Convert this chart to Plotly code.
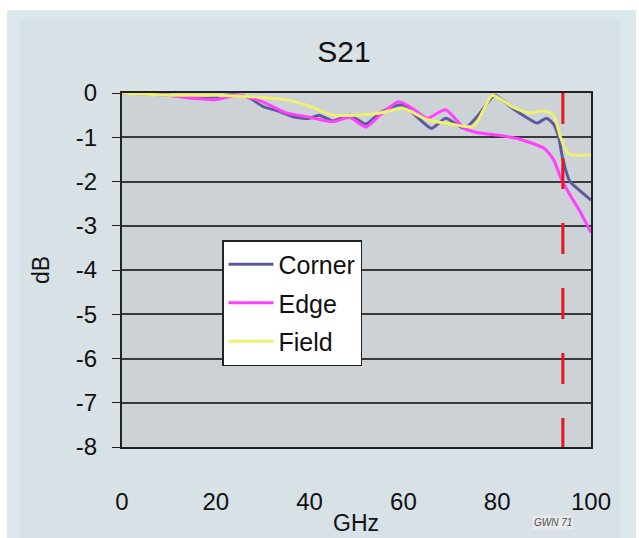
import plotly.graph_objects as go

# ---- data ----
corner_x = [0, 5, 10, 15, 18, 22, 25, 27, 30, 33, 37, 40, 42, 45, 48.5, 52, 55, 58, 60, 63, 66, 69, 73, 76,
            79.5, 83, 86.5, 88.5, 90.5, 92, 93, 94, 95.5, 97, 100]
corner_y = [0, -0.02, -0.05, -0.1, -0.12, -0.05, -0.05, -0.1, -0.3, -0.4, -0.55, -0.57, -0.5, -0.63, -0.5,
            -0.7, -0.45, -0.3, -0.27, -0.55, -0.8, -0.57, -0.8, -0.5,
            -0.05, -0.33, -0.57, -0.68, -0.57, -0.7, -0.95, -1.5, -2.0, -2.15, -2.42]

edge_x = [0, 10, 15, 20, 25, 30, 35, 40, 45, 48.5, 52, 55, 59, 62, 65, 69, 73, 76, 80, 85, 90, 92, 93.5,
          95.5, 97.5, 100]
edge_y = [0, -0.05, -0.12, -0.15, -0.05, -0.2, -0.45, -0.55, -0.65, -0.55, -0.77, -0.5, -0.2, -0.35, -0.57,
          -0.38, -0.8, -0.9, -0.95, -1.05, -1.25, -1.5, -1.9, -2.3, -2.65, -3.15]

field_x = [0, 10, 20, 30, 35, 40, 45, 50, 55, 60, 65, 70, 75, 79, 83, 87, 90, 92, 93.5, 95, 96, 100]
field_y = [0, -0.05, -0.05, -0.1, -0.15, -0.3, -0.5, -0.5, -0.45, -0.35, -0.6, -0.7, -0.75, -0.05, -0.3,
           -0.45, -0.4, -0.5, -1.0, -1.35, -1.4, -1.4]

series_names = ["Corner", "Edge", "Field"]
x_ticks = [0, 20, 40, 60, 80, 100]
y_ticks = [0, -1, -2, -3, -4, -5, -6, -7, -8]
cutoff_ghz = 94

# ---- figure ----
W, H = 639, 538
L, R, T, B = 122, 48, 93, 91
pw, ph = W - L - R, H - T - B


def px_x(px):
    return (px - L) / pw


def px_y(py):
    return (H - B - py) / ph


FONT = "Liberation Sans, Arial, sans-serif"

fig = go.Figure()
colors = ["#5b5b9e", "#ff40ff", "#f0f070"]
for name, xs, ys, c in zip(series_names, [corner_x, edge_x, field_x], [corner_y, edge_y, field_y], colors):
    fig.add_trace(go.Scatter(x=xs, y=ys, mode="lines", name=name, legendgroup=name,
                             line=dict(color=c, width=3, shape="spline", smoothing=0.6)))

shapes = [
    # panel background & white borders
    dict(type="rect", xref="paper", yref="paper", x0=px_x(0), x1=px_x(W), y0=px_y(0), y1=px_y(10),
         fillcolor="white", line=dict(width=0), layer="below"),
    dict(type="rect", xref="paper", yref="paper", x0=px_x(0), x1=px_x(7), y0=px_y(0), y1=px_y(H),
         fillcolor="white", line=dict(width=0), layer="below"),
    dict(type="rect", xref="paper", yref="paper", x0=px_x(636), x1=px_x(W), y0=px_y(0), y1=px_y(H),
         fillcolor="white", line=dict(width=0), layer="below"),
    dict(type="rect", xref="paper", yref="paper", x0=px_x(20), x1=px_x(620), y0=px_y(20), y1=px_y(H),
         fillcolor="#d3dee2", line=dict(width=0), layer="below", opacity=0.6),
    # cutoff marker
    dict(type="line", xref="x", yref="y", x0=cutoff_ghz, x1=cutoff_ghz, y0=0, y1=-8,
         line=dict(color="#e8141e", width=3, dash="31px,34px")),
]

annotations = [
    dict(text="dB", xref="paper", yref="paper", x=px_x(41), y=px_y(270), showarrow=False,
         xanchor="center", yanchor="middle",
         textangle=-90, font=dict(family=FONT, size=23, color="#111")),
    dict(text="GHz", xref="paper", yref="paper", x=px_x(356), y=px_y(523), showarrow=False,
         xanchor="center", yanchor="middle",
         font=dict(family=FONT, size=23, color="#111")),
    dict(text="<i>GWN 71</i>", xref="paper", yref="paper", x=px_x(553), y=px_y(522), showarrow=False,
         xanchor="center", yanchor="middle",
         font=dict(family=FONT, size=10, color="#555"), bgcolor="#e6e8ea"),
]

fig.update_layout(
    width=W, height=H,
    margin=dict(l=L, r=R, t=T, b=B, autoexpand=False),
    paper_bgcolor="#dce7eb",
    plot_bgcolor="#c0c0c0",
    title=dict(text="S21", x=344 / W, xref="container", xanchor="center",
               y=1 - 51 / H, yanchor="middle", font=dict(family=FONT, size=30, color="#111")),
    font=dict(family=FONT, color="#111"),
    showlegend=True,
    legend=dict(x=px_x(222), y=px_y(240), xanchor="left", yanchor="top", bgcolor="white",
                bordercolor="#222", borderwidth=1.5, font=dict(family=FONT, size=25, color="#111"),
                itemwidth=45, tracegroupgap=3),
    shapes=shapes,
    annotations=annotations,
)
fig.update_xaxes(range=[0, 100], tickvals=x_ticks, ticktext=[str(v) for v in x_ticks],
                 showgrid=False, zeroline=False, showline=True, linecolor="#222", linewidth=2,
                 mirror=True, ticks="", ticklabelstandoff=32, tickfont=dict(family=FONT, size=24, color="#111"))
fig.update_yaxes(range=[-8, 0], tickvals=y_ticks, ticktext=[str(v) for v in y_ticks],
                 showgrid=True, gridcolor="#3a3a3a", gridwidth=2, zeroline=False,
                 showline=True, linecolor="#222", linewidth=2, mirror=True,
                 ticks="outside", ticklen=8, tickcolor="#222", ticklabelstandoff=10,
                 tickfont=dict(family=FONT, size=24, color="#111"))

fig.write_html("out.html")
